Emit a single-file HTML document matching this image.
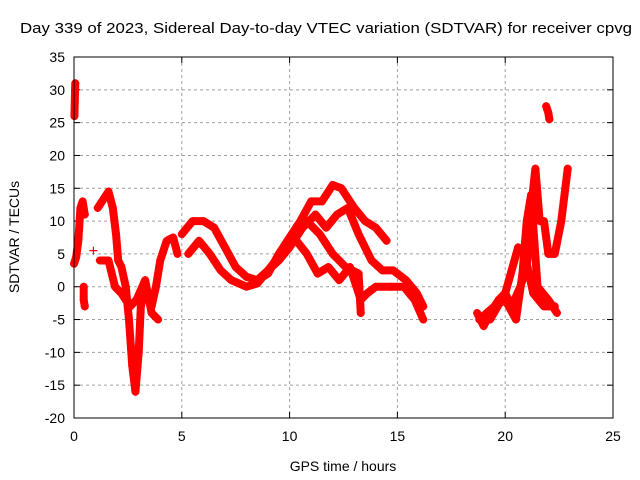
<!DOCTYPE html>
<html><head><meta charset="utf-8"><style>
body{margin:0;background:#fff;}
svg{display:block;font-family:"Liberation Sans",sans-serif;}
</style></head><body>
<svg id="chart" width="640" height="480">
<rect width="640" height="480" fill="#fff"/>
<text x="20" y="33" font-size="15" textLength="612" lengthAdjust="spacingAndGlyphs">Day 339 of 2023, Sidereal Day-to-day VTEC variation (SDTVAR) for receiver cpvg</text>
<text x="343" y="471" font-size="14" text-anchor="middle">GPS time / hours</text>
<text transform="translate(19,237) rotate(-90)" font-size="14" text-anchor="middle">SDTVAR / TECUs</text>
<g id="grid"></g><g id="ticks"></g><g id="series"></g>
<rect x="74" y="57" width="539" height="361" fill="none" stroke="#000" stroke-width="1"/>
</svg>
<script>
const xTicks=[0,5,10,15,20,25];
const yTicks=[-20,-15,-10,-5,0,5,10,15,20,25,30,35];
const trace1=[[0,3.5],[0.1,4.5],[0.2,7],[0.3,12],[0.4,13],[0.5,11]];
const trace1b=[[0.02,26],[0.05,30],[0.06,31]];
const trace1c=[[0.45,0],[0.45,-2],[0.5,-3]];
const trace1d=[[0.9,5.5]];
const trace2=[[1.1,12],[1.3,13],[1.6,14.5],[1.8,12],[1.95,8],[2.05,4],[2.2,3],[2.4,0],[2.55,-5],[2.7,-12],[2.85,-16],[3.0,-10],[3.1,-3],[3.3,0],[3.5,-2],[3.6,-3],[3.8,0],[4.0,4],[4.3,7],[4.6,7.5],[4.8,5]];
const trace2b=[[1.2,4],[1.6,4],[1.9,0],[2.2,-1],[2.6,-3],[2.9,-2],[3.3,1],[3.6,-4],[3.9,-5]];
const trace3=[[5,8],[5.5,10],[6,10],[6.5,9],[7,6],[7.5,3],[8,1.5],[8.5,1],[9,2],[9.5,5],[10,7.5],[10.5,10],[11,13],[11.5,13],[12,15.5],[12.4,15],[13,12],[13.5,10],[14,9],[14.5,7]];
const trace4=[[5.3,5],[5.8,7],[6.3,5],[6.8,2.5],[7.3,1],[8,0],[8.5,0.5],[9,2.5],[9.6,5],[10.2,7.5],[10.8,5],[11.3,2],[11.8,3],[12.3,1],[12.8,3],[13.3,-2],[13.6,-1],[14,0],[14.7,0],[15.3,0],[15.8,-2],[16.2,-5]];
const trace5=[[8.5,1],[9.5,4],[10,6],[10.6,9],[11.2,11],[11.7,9],[12.2,11],[12.7,12],[13.2,8],[13.8,4],[14.3,2.5],[14.8,2.5],[15.4,1],[15.9,-1],[16.2,-3]];
const trace6=[[10.8,10],[11.4,8],[12,5],[12.6,3],[13.2,2],[13.3,-4]];
const trace7=[[18.7,-4],[19,-6],[19.3,-4],[19.7,-2],[20,-1],[20.3,-3],[20.7,0],[21,3],[21.2,12],[21.4,18],[21.6,10],[21.8,10],[22,5],[22.3,5],[22.6,10],[22.9,18]];
const trace8=[[18.8,-5],[19.5,-3],[20,-2],[20.5,-5],[20.8,2],[21,10],[21.2,14],[21.5,0],[22,-2],[22.4,-4]];
const trace9=[[19.3,-5],[20,-1],[20.6,6],[20.9,5],[21.3,-1],[21.8,-3],[22.3,-3]];
const trace10=[[21.9,27.5],[22.0,26.5],[22.05,25.5]];
const traces=[trace1,trace1b,trace1c,trace1d,trace2,trace2b,trace3,trace4,trace5,trace6,trace7,trace8,trace9,trace10];
const NS="http://www.w3.org/2000/svg";
const X0=74,X1=613,Y0=418,Y1=57;
function xs(t){return X0+(t-0)/(25-0)*(X1-X0);}
function ys(v){return Y0-(v+20)/(35+20)*(Y0-Y1);}
function mk(tag,attrs,parent){const e=document.createElementNS(NS,tag);for(const k in attrs)e.setAttribute(k,attrs[k]);parent.appendChild(e);return e;}
const grid=document.getElementById('grid'),ticks=document.getElementById('ticks'),ser=document.getElementById('series');
xTicks.forEach(t=>{const x=xs(t);
 if(t>0&&t<25){const g=mk('line',{x1:x,x2:x,y1:Y1,y2:Y0,stroke:'#a0a0a0','stroke-dasharray':'3,3'},grid);
 
 }
 mk('line',{x1:x,x2:x,y1:Y0,y2:Y0-6,stroke:'#000'},ticks);mk('line',{x1:x,x2:x,y1:Y1,y2:Y1+6,stroke:'#000'},ticks);
 const l=mk('text',{x:x,y:Y0+23,'font-size':14,'text-anchor':'middle'},ticks);l.textContent=t;
 
 });
yTicks.forEach(v=>{const y=ys(v);
 if(v>-20&&v<35){const g=mk('line',{x1:X0,x2:X1,y1:y,y2:y,stroke:'#a0a0a0','stroke-dasharray':'3,3'},grid);
 
 }
 mk('line',{x1:X0,x2:X0+6,y1:y,y2:y,stroke:'#000'},ticks);mk('line',{x1:X1,x2:X1-6,y1:y,y2:y,stroke:'#000'},ticks);
 const l=mk('text',{x:X0-9,y:y+5,'font-size':14,'text-anchor':'end'},ticks);l.textContent=v;
 
 });
traces.forEach((tr,i)=>{
 const g=mk('g',{},ser);
 
 
 if(tr.length>1){mk('polyline',{points:tr.map(p=>xs(p[0])+','+ys(p[1])).join(' '),fill:'none',stroke:'#ff0000','stroke-width':8,'stroke-linejoin':'round','stroke-linecap':'round'},g);}
 tr.forEach(p=>{const x=xs(p[0]),y=ys(p[1]);
  mk('path',{d:`M${x-4},${y}H${x+4}M${x},${y-4}V${y+4}`,stroke:'#ff0000','stroke-width':1.2},g);});
});
</script>
</body></html>
